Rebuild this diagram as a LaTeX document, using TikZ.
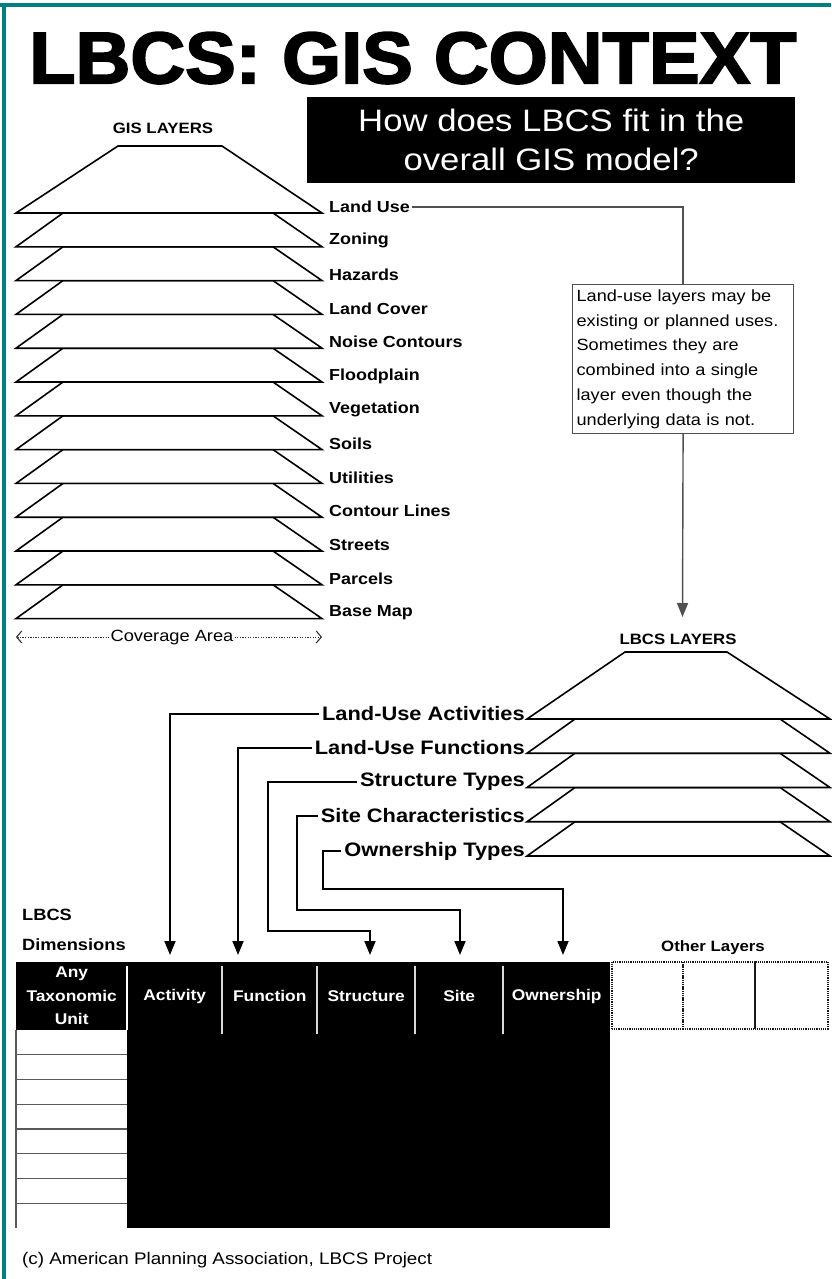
\documentclass[tikz,border=0pt]{standalone}
\usepackage{fontspec}
\setmainfont{Liberation Sans}[FakeStretch=1.12]
\newfontfamily\titlefont{Liberation Sans}[UprightFont=* Bold, FakeBold=2.5]
\usetikzlibrary{arrows.meta}
\definecolor{frameteal}{RGB}{0,128,128}
\definecolor{linegray}{RGB}{80,80,80}
\definecolor{rowgray}{RGB}{90,90,90}
\newcommand{\fsz}[2]{\fontsize{#1}{#2}\selectfont}
\begin{document}
\begin{tikzpicture}[x=1pt,y=-1pt,
  layer/.style={draw=black, fill=white, line width=1.6pt, line join=miter},
  gislabel/.style={font=\fsz{16}{19}\bfseries, inner sep=2pt, anchor=west},
  lbcslabel/.style={font=\fsz{19.5}{23}\bfseries, inner sep=3pt, anchor=east},
  headlbl/.style={font=\fsz{15}{18}\bfseries, inner sep=0pt},
  conn/.style={draw=black, line width=1.6pt, -{Triangle[length=14pt,width=11pt]}},
  noteconn/.style={draw=linegray, line width=1.4pt},
  dotline/.style={draw=black!80, line width=1pt, dash pattern=on 1.3pt off 1.3pt},
  covtip/.tip={Straight Barb[length=5pt,width=12pt,line width=1.1pt]},
  hdr/.style={fill=black, text=white, font=\fsz{15.5}{23.5}\bfseries, align=center,
    minimum height=68pt, inner sep=0pt, anchor=north west},
  otherbox/.style={draw=black!90, line width=1.5pt, dash pattern=on 1.2pt off 1pt,
    minimum height=67pt, inner sep=0pt, anchor=north west}
]
\useasboundingbox (0,0) rectangle (831,1279);
\fill[white] (0,0) rectangle (831,1279);
% frame
\fill[frameteal] (0,3.5) rectangle (831,7);
\fill[frameteal] (2,3.5) rectangle (6,1279);

% title
\node[anchor=north west, inner sep=0pt] (title) at (29,32)
  {\resizebox{767pt}{51pt}{\titlefont LBCS: GIS CONTEXT}};

% question box
\node[fill=black, text=white, anchor=north west, minimum width=488pt, minimum height=86pt,
  align=center, inner sep=0pt, font=\fsz{31}{39}] (question) at (307,97)
  {How does LBCS fit in the\\overall GIS model?};

% GIS layers
\node[headlbl] (gislbl) at (163,128) {GIS LAYERS};
\foreach \i in {12,11,...,1}{
  \pgfmathsetmacro\yb{213+33.8*\i}
  \filldraw[layer] (16,\yb) -- (63,\yb-33.8) -- (273,\yb-33.8) -- (322,\yb) -- cycle;
}
\filldraw[layer] (16,213) -- (118,146) -- (222,146) -- (322,213) -- cycle;
\foreach \n [count=\i from 0] in {Land Use,Zoning,Hazards,Land Cover,Noise Contours,Floodplain,Vegetation,Soils,Utilities,Contour Lines,Streets,Parcels,Base Map}{
  \pgfmathsetmacro\yb{213+33.8*\i}
  \node[gislabel] (gl\i) at (327,\yb-6) {\n};
}

% coverage area
\node[font=\fsz{16.3}{19}, inner sep=1pt] (cov) at (172,637) {Coverage Area};
\coordinate (covL) at (16,637);
\coordinate (covR) at (322,637);
\draw[dotline, {covtip}-] (covL) -- (cov.west);
\draw[dotline, -{covtip}] (cov.east) -- (covR);

% note
\node[draw=linegray, line width=1.2pt, fill=white, anchor=north west, minimum width=221pt,
  minimum height=149pt, text width=213pt, align=left, inner sep=4pt,
  font=\fsz{16.2}{24.7}] (note) at (572,284)
  {Land-use layers may be\\existing or planned uses.\\Sometimes they are\\combined into a single\\layer even though the\\underlying data is not.};
\coordinate (tipLU) at (682.5,617);
\draw[noteconn] (gl0.east) -| (note.north);
\draw[noteconn, -{Triangle[length=14pt,width=11pt]}] (note.south) -- (tipLU);

% LBCS layers
\node[headlbl] (lbcslbl) at (678,639) {LBCS LAYERS};
\foreach \i in {4,3,2,1}{
  \pgfmathsetmacro\yb{719+34.25*\i}
  \filldraw[layer] (527,\yb) -- (575,\yb-34.25) -- (780,\yb-34.25) -- (830,\yb) -- cycle;
}
\filldraw[layer] (527,719) -- (625,652) -- (727,652) -- (830,719) -- cycle;
\node[lbcslabel] (la) at (528,714) {Land-Use Activities};
\node[lbcslabel] (lf) at (528,748) {Land-Use Functions};
\node[lbcslabel] (ls) at (528,782) {Structure Types};
\node[lbcslabel] (lsc) at (528,816) {Site Characteristics};
\node[lbcslabel] (lo) at (528,851) {Ownership Types};

% connectors to table
\coordinate (t1) at (170,955);
\coordinate (t2) at (238,955);
\coordinate (t3) at (370,955);
\coordinate (t4) at (460,955);
\coordinate (t5) at (563,955);
\coordinate (b3) at (268,931);
\coordinate (b4) at (297,910);
\coordinate (b5) at (323,889);
\draw[conn] (la.west) -| (t1);
\draw[conn] (lf.west) -| (t2);
\draw[conn] (ls.west) -| (b3) -| (t3);
\draw[conn] (lsc.west) -| (b4) -| (t4);
\draw[conn] (lo.west) -| (b5) -| (t5);

% LBCS dimensions label
\node[font=\fsz{16.3}{19}\bfseries, anchor=west, inner sep=0pt] (dimA) at (22,915) {LBCS};
\node[font=\fsz{16.3}{19}\bfseries, anchor=west, inner sep=0pt] (dimB) at (22,945) {Dimensions};

% table header
\node[hdr, minimum width=111pt] (hAny) at (16,962) {Any\\Taxonomic\\Unit};
\node[hdr, minimum width=95pt] (hAct) at (127,962) {Activity};
\node[hdr, minimum width=95pt] (hFun) at (222,962) {Function};
\node[hdr, minimum width=98pt] (hStr) at (317,962) {Structure};
\node[hdr, minimum width=88pt] (hSit) at (415,962) {Site};
\node[hdr, minimum width=107pt] (hOwn) at (503,962) {Ownership};
\fill[black] (127,1029) rectangle (610,1228);
\draw[white, line width=1.2pt] (127,966) -- (127,1030);
\foreach \xs in {222,317,415,503}{
  \draw[white!85!black, line width=1.2pt] (\xs,966) -- (\xs,1034);
}
% left column rows
\draw[rowgray, line width=1.6pt] (16,1030) -- (16,1228);
\foreach \k in {1,...,7}{
  \draw[rowgray, line width=1.4pt] (16,1030+24.75*\k) -- (127,1030+24.75*\k);
}

% other layers
\node[headlbl] (otherlbl) at (713,948) {Other Layers};
\node[otherbox, minimum width=71pt] (o1) at (611,961) {};
\node[otherbox, minimum width=72pt] (o2) at (682,961) {};
\node[otherbox, minimum width=73pt] (o3) at (754,961) {};

% footer
\node[font=\fsz{16.8}{20}, anchor=west, inner sep=0pt] (foot) at (22,1260)
  {(c) American Planning Association, LBCS Project};
\end{tikzpicture}
\end{document}
